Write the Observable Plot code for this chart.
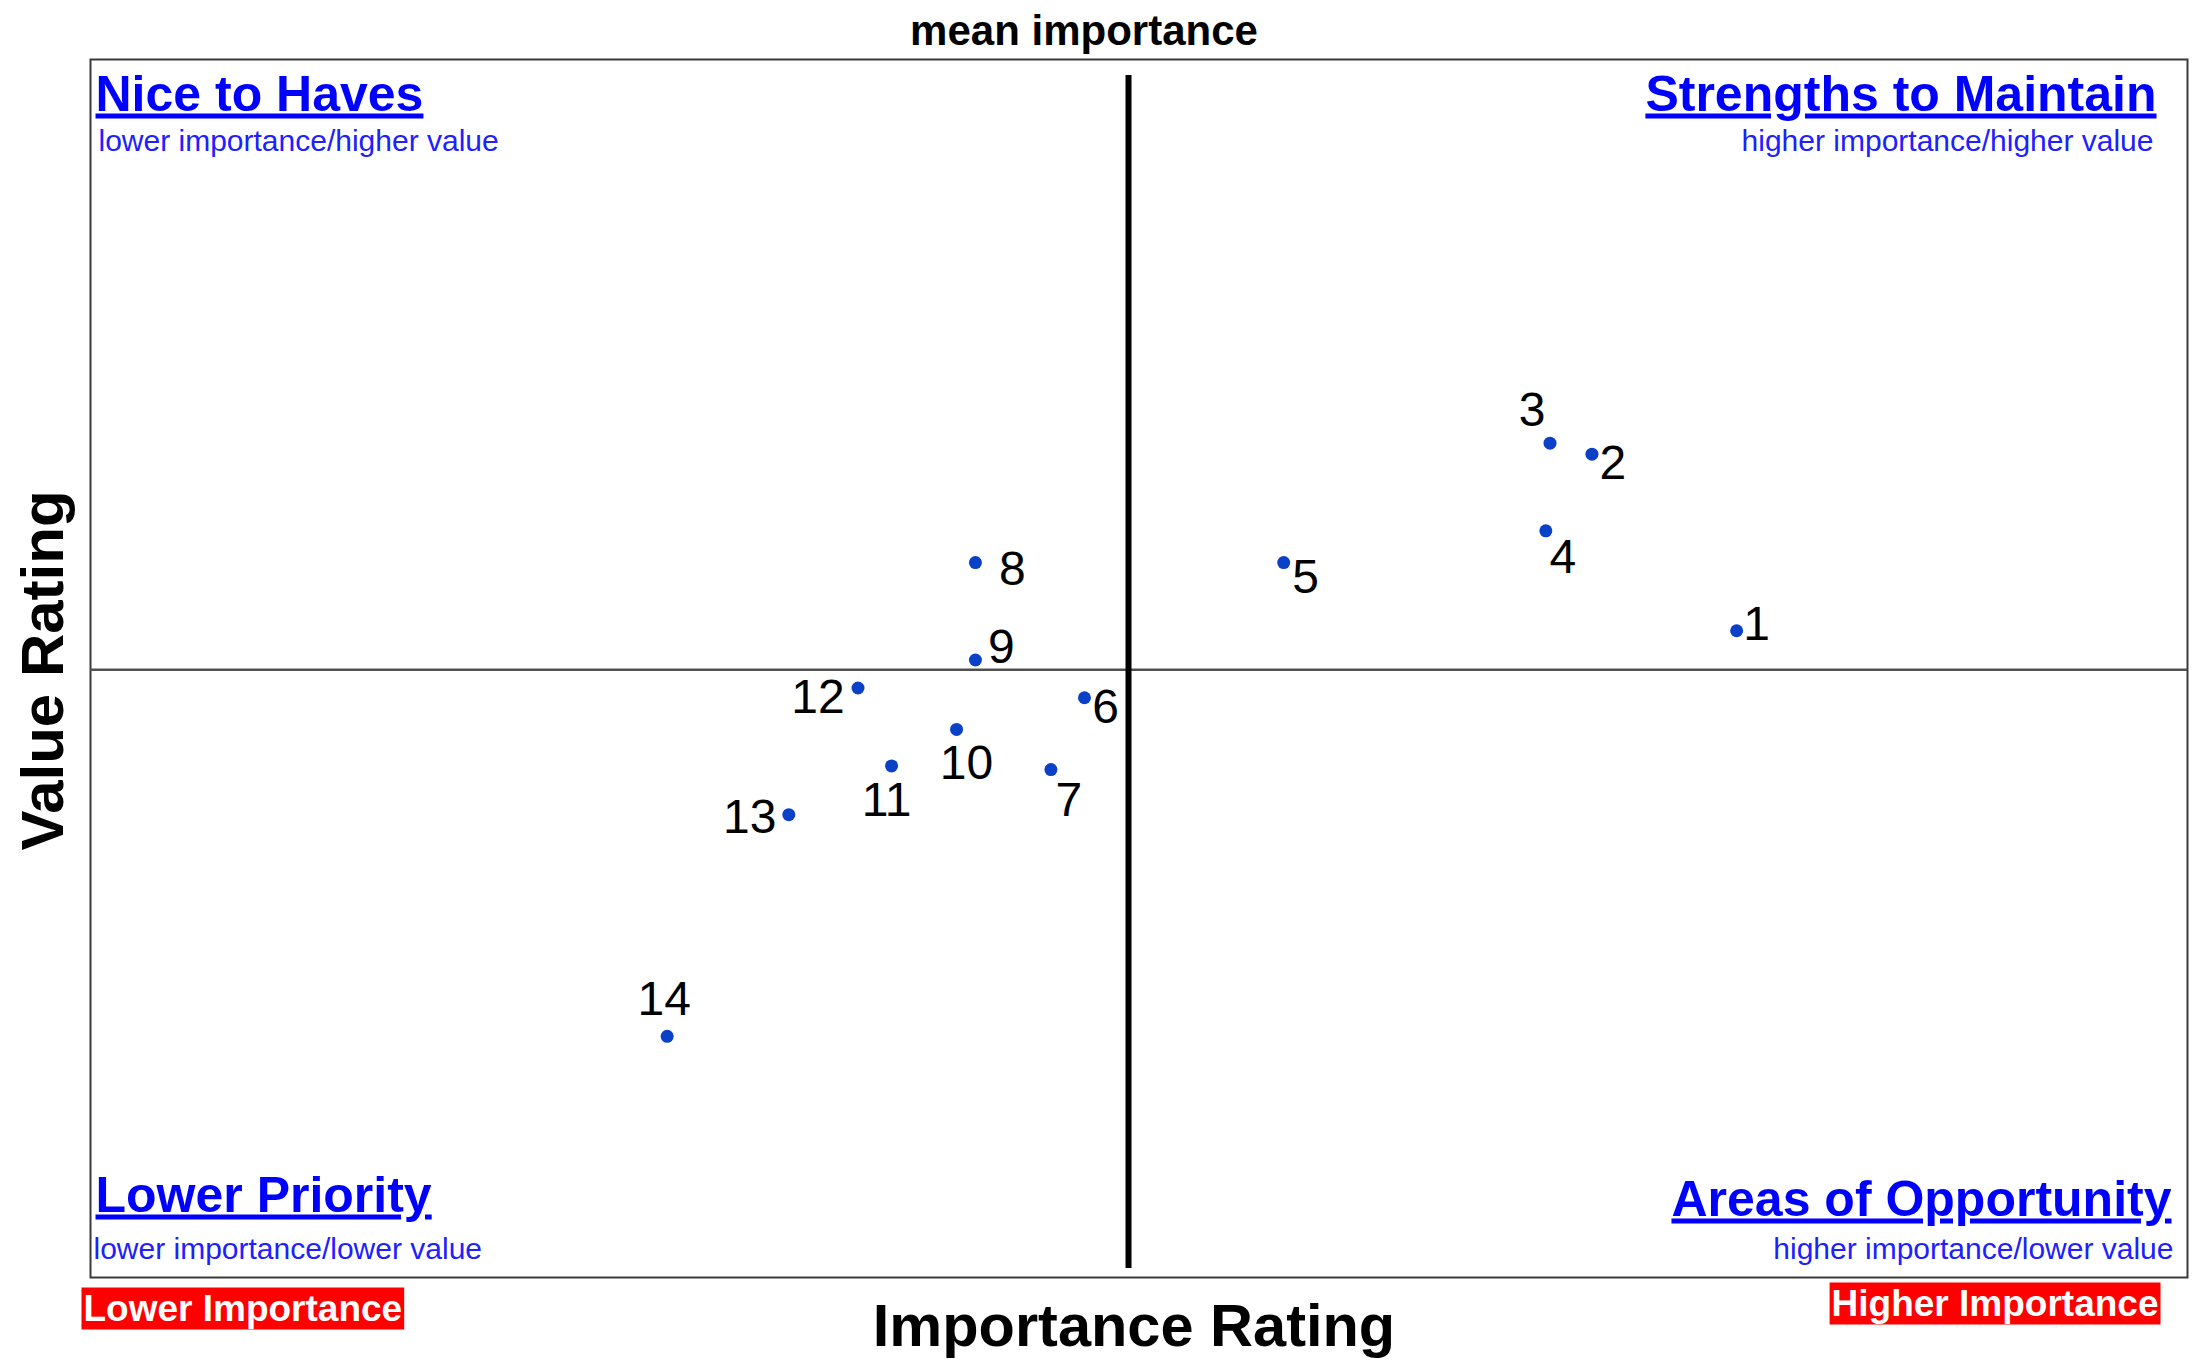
<!DOCTYPE html>
<html>
<head>
<meta charset="utf-8">
<script src="https://cdn.jsdelivr.net/npm/d3@7"></script>
<script src="https://cdn.jsdelivr.net/npm/@observablehq/plot@0.6"></script>
<style>
  html, body { margin: 0; padding: 0; background: #fff; }
  #chart { width: 2201px; height: 1362px; }
</style>
</head>
<body>
<div id="chart"></div>
<script>
// ---- data (axes carry no ticks, scale 0–100) ----
const ids        = [1, 2, 3, 4, 5, 6, 7, 8, 9, 10, 11, 12, 13, 14];
const importance = [78.5, 71.6, 69.6, 69.4, 56.9, 47.4, 45.8, 42.2, 42.2, 41.3, 38.2, 36.6, 33.3, 27.5];
const value      = [53.1, 67.6, 68.5, 61.3, 58.7, 47.6, 41.7, 58.7, 50.7, 45.0, 42.0, 48.4, 38.0, 19.8];
const meanImportance = 49.5;
const meanValue = 49.9;

const quadrantTitles    = ["Nice to Haves", "Strengths to Maintain", "Lower Priority", "Areas of Opportunity"];
const quadrantSubtitles = ["lower importance/higher value", "higher importance/higher value", "lower importance/lower value", "higher importance/lower value"];
const axisTexts = {x: "Importance Rating", y: "Value Rating", mean: "mean importance", low: "Lower Importance", high: "Higher Importance"};

// ---- layout (label offsets in pixels, not data) ----
const labelOffsets = [[20,-6],[21,9],[-18,-33],[17,27],[22,15],[21,10],[18,31],[37,7],[26,-12],[10,34],[-5,35],[-40,10],[-39,3],[-3,-37]];

const rows = ids.map((id, i) => ({id, importance: importance[i], value: value[i]}));

const FONT = '"Liberation Sans", Arial, Helvetica, sans-serif';
const titleOpts = {fontSize: 50, fontWeight: "bold", fill: "#0000ff", lineAnchor: "bottom"};
const subOpts = {fontSize: 30, fill: "#2020ff", lineAnchor: "bottom"};
const badgeOpts = {fontSize: 37, fontWeight: "bold", fill: "#ffffff", lineAnchor: "bottom"};

const labelMarks = rows.map((r, i) => Plot.text([r], {
  x: "importance", y: "value", text: d => String(d.id),
  fontSize: 48, fill: "#000", textAnchor: "middle", lineAnchor: "middle",
  dx: labelOffsets[i][0], dy: labelOffsets[i][1]
}));

const chart = Plot.plot({
  width: 2201,
  height: 1362,
  marginLeft: 90,
  marginRight: 14,
  marginTop: 59,
  marginBottom: 85,
  style: {fontFamily: FONT, background: "#fff", overflow: "visible"},
  x: {domain: [0, 100], axis: null},
  y: {domain: [0, 100], axis: null},
  marks: [
    Plot.frame({stroke: "#3a3a3a", strokeWidth: 2}),
    Plot.ruleY([meanValue], {stroke: "#505050", strokeWidth: 2.5}),
    Plot.ruleX([meanImportance], {stroke: "#000", strokeWidth: 6, insetTop: 16, insetBottom: 9}),
    Plot.dot(rows, {x: "importance", y: "value", r: 6.5, fill: "#0b40c8"}),
    ...labelMarks,
    // quadrant titles
    Plot.text([quadrantTitles[0]], {...titleOpts, frameAnchor: "top-left", textAnchor: "start", dx: 5, dy: 51}),
    Plot.text([quadrantTitles[1]], {...titleOpts, frameAnchor: "top-right", textAnchor: "end", dx: -31, dy: 51}),
    Plot.text([quadrantTitles[2]], {...titleOpts, frameAnchor: "bottom-left", textAnchor: "start", dx: 5, dy: -66}),
    Plot.text([quadrantTitles[3]], {...titleOpts, frameAnchor: "bottom-right", textAnchor: "end", dx: -16, dy: -62}),
    // quadrant subtitles
    Plot.text([quadrantSubtitles[0]], {...subOpts, frameAnchor: "top-left", textAnchor: "start", dx: 8, dy: 91}),
    Plot.text([quadrantSubtitles[1]], {...subOpts, frameAnchor: "top-right", textAnchor: "end", dx: -34, dy: 91}),
    Plot.text([quadrantSubtitles[2]], {...subOpts, frameAnchor: "bottom-left", textAnchor: "start", dx: 3, dy: -19}),
    Plot.text([quadrantSubtitles[3]], {...subOpts, frameAnchor: "bottom-right", textAnchor: "end", dx: -14, dy: -19}),
    // axis texts
    Plot.text([axisTexts.mean], {frameAnchor: "top", textAnchor: "middle", fontSize: 42, fontWeight: "bold", lineAnchor: "bottom", dx: -55, dy: -15}),
    Plot.text([axisTexts.x], {frameAnchor: "bottom", textAnchor: "middle", fontSize: 59.5, fontWeight: "bold", lineAnchor: "bottom", dx: -5, dy: 68}),
    Plot.text([axisTexts.y], {frameAnchor: "left", textAnchor: "middle", rotate: -90, fontSize: 60, fontWeight: "bold", lineAnchor: "bottom", dx: -28, dy: 2}),
    // badges
    Plot.text([axisTexts.low], {...badgeOpts, frameAnchor: "bottom-left", textAnchor: "start", dx: -7, dy: 43}),
    Plot.text([axisTexts.high], {...badgeOpts, frameAnchor: "bottom-right", textAnchor: "end", dx: -29, dy: 38})
  ]
});

document.getElementById("chart").append(chart);

// underline quadrant titles
chart.querySelectorAll("text").forEach(t => {
  if (quadrantTitles.includes(t.textContent)) {
    t.style.textDecoration = "underline";
    t.style.textDecorationThickness = "5px";
    t.style.textUnderlineOffset = "6px";
  }
});
// red background boxes behind the importance badges
chart.querySelectorAll("text").forEach(t => {
  if (t.textContent === axisTexts.low || t.textContent === axisTexts.high) {
    const b = t.getBBox();
    const rect = document.createElementNS("http://www.w3.org/2000/svg", "rect");
    rect.setAttribute("x", b.x - 2);
    rect.setAttribute("y", b.y);
    rect.setAttribute("width", b.width + 4);
    rect.setAttribute("height", b.height + 1);
    rect.setAttribute("fill", "#ff0000");
    const tr = t.getAttribute("transform");
    if (tr) rect.setAttribute("transform", tr);
    t.parentNode.insertBefore(rect, t);
  }
});
</script>
</body>
</html>
